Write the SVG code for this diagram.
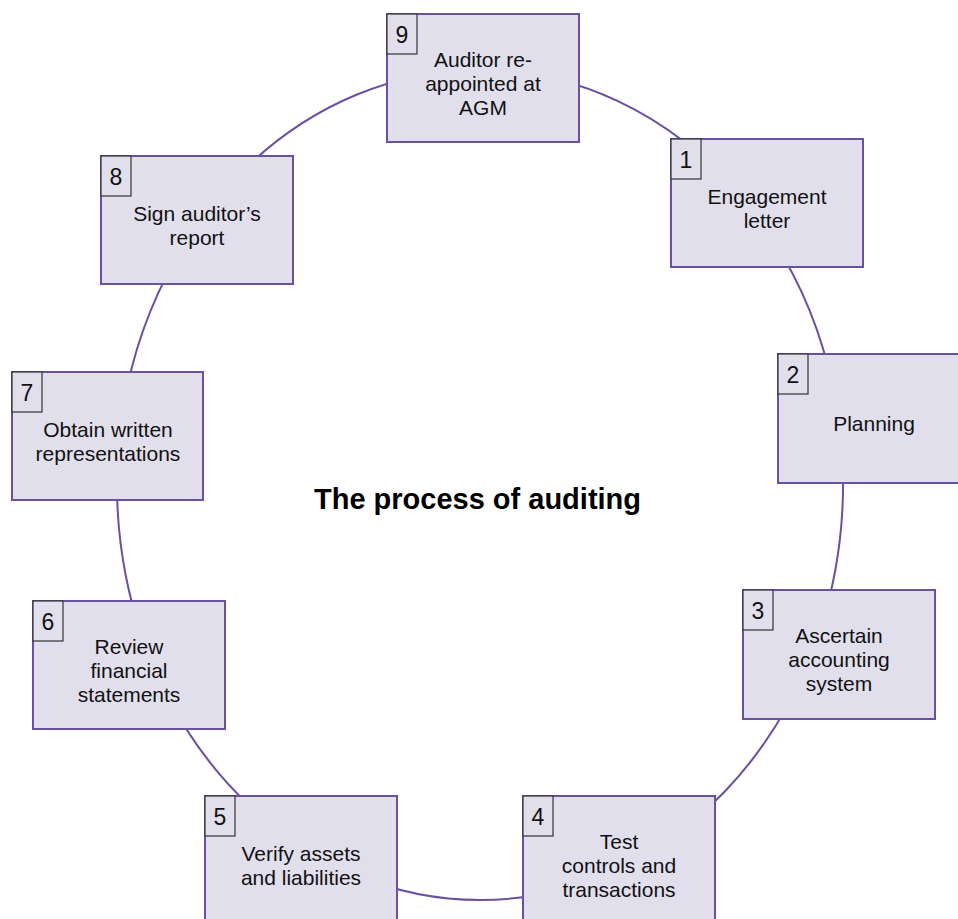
<svg xmlns="http://www.w3.org/2000/svg" width="958" height="919" viewBox="0 0 958 919">
<style>
.box{fill:#E2DFEC;stroke:#6B50A0;stroke-width:2}
.num{fill:#E2DFEC;stroke:#333;stroke-width:1.2}
.conn{fill:none;stroke:#6B50A0;stroke-width:2}
.lbl{font-family:"Liberation Sans",Arial,sans-serif;font-size:21px;fill:#111;text-anchor:middle}
.n{font-family:"Liberation Sans",Arial,sans-serif;font-size:23px;fill:#111;text-anchor:middle}
.title{font-family:"Liberation Sans",Arial,sans-serif;font-size:29px;font-weight:bold;fill:#000;text-anchor:middle}
</style>
<rect width="958" height="919" fill="#fff"/>
<g id="connectors">
<path class="conn" d="M480 70 A363 415 0 0 1 758.1 218.2"/>
<path class="conn" d="M758.1 218.2 A363 415 0 0 1 837.5 412.9"/>
<path class="conn" d="M837.5 412.9 A363 415 0 0 1 809 660.4"/>
<path class="conn" d="M809 660.4 A363 415 0 0 1 604.2 875"/>
<path class="conn" d="M604.2 875 A363 415 0 0 1 355.8 875"/>
<path class="conn" d="M355.8 875 A363 415 0 0 1 165.6 692.5"/>
<path class="conn" d="M165.6 692.5 A363 415 0 0 1 118.4 448.8"/>
<path class="conn" d="M118.4 448.8 A363 415 0 0 1 246.7 167.1"/>
<path class="conn" d="M246.7 167.1 A363 415 0 0 1 480 70"/>
</g>
<g id="node9">
<rect class="box" x="387" y="14" width="192" height="128"/>
<rect class="num" x="387" y="14" width="30" height="40"/>
<text class="n" x="402" y="42.5">9</text>
<text class="lbl" x="483" y="66.5">Auditor re-</text>
<text class="lbl" x="483" y="90.5">appointed at</text>
<text class="lbl" x="483" y="114.5">AGM</text>
</g>
<g id="node1">
<rect class="box" x="671" y="139" width="192" height="128"/>
<rect class="num" x="671" y="139" width="30" height="40"/>
<text class="n" x="686" y="167.5">1</text>
<text class="lbl" x="767" y="203.5">Engagement</text>
<text class="lbl" x="767" y="227.5">letter</text>
</g>
<g id="node2">
<rect class="box" x="778" y="354" width="192" height="129"/>
<rect class="num" x="778" y="354" width="30" height="40"/>
<text class="n" x="793" y="382.5">2</text>
<text class="lbl" x="874" y="431">Planning</text>
</g>
<g id="node3">
<rect class="box" x="743" y="590" width="192" height="129"/>
<rect class="num" x="743" y="590" width="30" height="40"/>
<text class="n" x="758" y="618.5">3</text>
<text class="lbl" x="839" y="642.5">Ascertain</text>
<text class="lbl" x="839" y="666.5">accounting</text>
<text class="lbl" x="839" y="690.5">system</text>
</g>
<g id="node4">
<rect class="box" x="523" y="796" width="192" height="128"/>
<rect class="num" x="523" y="796" width="30" height="40"/>
<text class="n" x="538" y="824.5">4</text>
<text class="lbl" x="619" y="848.5">Test</text>
<text class="lbl" x="619" y="872.5">controls and</text>
<text class="lbl" x="619" y="896.5">transactions</text>
</g>
<g id="node5">
<rect class="box" x="205" y="796" width="192" height="128"/>
<rect class="num" x="205" y="796" width="30" height="40"/>
<text class="n" x="220" y="824.5">5</text>
<text class="lbl" x="301" y="860.5">Verify assets</text>
<text class="lbl" x="301" y="884.5">and liabilities</text>
</g>
<g id="node6">
<rect class="box" x="33" y="601" width="192" height="128"/>
<rect class="num" x="33" y="601" width="30" height="40"/>
<text class="n" x="48" y="629.5">6</text>
<text class="lbl" x="129" y="653.5">Review</text>
<text class="lbl" x="129" y="677.5">financial</text>
<text class="lbl" x="129" y="701.5">statements</text>
</g>
<g id="node7">
<rect class="box" x="12" y="372" width="191" height="128"/>
<rect class="num" x="12" y="372" width="30" height="40"/>
<text class="n" x="27" y="400.5">7</text>
<text class="lbl" x="108" y="436.5">Obtain written</text>
<text class="lbl" x="108" y="460.5">representations</text>
</g>
<g id="node8">
<rect class="box" x="101" y="156" width="192" height="128"/>
<rect class="num" x="101" y="156" width="30" height="40"/>
<text class="n" x="116" y="184.5">8</text>
<text class="lbl" x="197" y="220.5">Sign auditor’s</text>
<text class="lbl" x="197" y="244.5">report</text>
</g>
<g id="title">
<text class="title" x="477.5" y="509">The process of auditing</text>
</g>
</svg>
